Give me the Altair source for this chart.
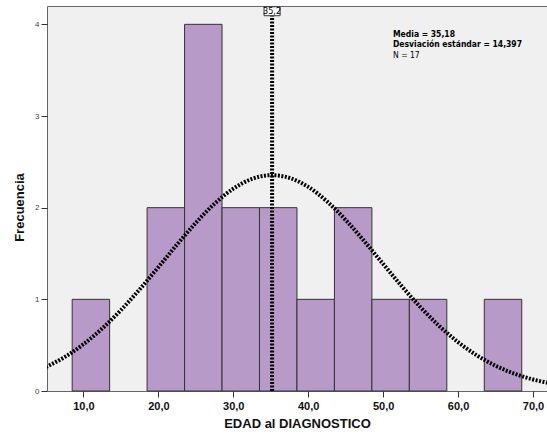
import altair as alt
import pandas as pd

# Histogram bins (age at diagnosis) and frequencies
bin_start = [8.5, 18.5, 23.5, 28.5, 33.5, 38.5, 43.5, 48.5, 53.5, 63.5]
bin_end = [13.5, 23.5, 28.5, 33.5, 38.5, 43.5, 48.5, 53.5, 58.5, 68.5]
freq = [1, 2, 4, 2, 2, 1, 2, 1, 1, 1]

# Fitted normal curve
curve_x = [5, 7.5, 10, 12.5, 15, 17.5, 20, 22.5, 25, 27.5, 30, 32.5, 35, 37.5,
           40, 42.5, 45, 47.5, 50, 52.5, 55, 57.5, 60, 62.5, 65, 67.5, 70, 72.5, 75]
curve_y = [0.262, 0.371, 0.510, 0.681, 0.882, 1.108, 1.351, 1.598, 1.834, 2.043,
           2.207, 2.314, 2.355, 2.325, 2.227, 2.069, 1.866, 1.633, 1.386, 1.142,
           0.913, 0.708, 0.533, 0.389, 0.276, 0.190, 0.126, 0.082, 0.051]

mean_value = [35.18]
mean_label = ["35,2"]
stats_bold = ["Media = 35,18", "Desviación estándar = 14,397"]
stats_n = ["N = 17"]

x_ticks = [10, 20, 30, 40, 50, 60, 70]
y_ticks = [0, 1, 2, 3, 4]
x_domain = [5.14, 71.87]
y_domain = [0, 4.2]

NARROW = "'Liberation Sans Narrow', 'DejaVu Sans Condensed', 'Roboto Condensed', 'Liberation Sans'"

bars_df = pd.DataFrame({"start": bin_start, "end": bin_end, "freq": freq, "zero": [0] * len(freq)})
curve_df = pd.DataFrame({"x": curve_x, "y": curve_y})
mean_df = pd.DataFrame({"m": mean_value, "lab": mean_label, "top": [y_domain[1]], "zero": [0], "boxy": [4.143]})

xscale = alt.Scale(domain=x_domain, nice=False, zero=False)
yscale = alt.Scale(domain=y_domain, nice=False)

xaxis = alt.Axis(values=x_ticks, labelExpr="replace(format(datum.value, '.1f'), '.', ',')",
                 labelFont="Liberation Sans", labelFontSize=11, labelFontWeight="bold",
                 labelColor="#111", tickSize=6, tickColor="#333", labelPadding=3,
                 domain=False, grid=False, title="EDAD al DIAGNOSTICO",
                 titleFont="Liberation Sans", titleFontSize=13, titleFontWeight="bold",
                 titleColor="#111", titlePadding=6)
yaxis = alt.Axis(values=y_ticks, format="d", labelFont="Liberation Sans", labelFontSize=8,
                 labelColor="#444", tickSize=6, tickColor="#333", labelPadding=2,
                 domain=False, grid=False, title="Frecuencia", titleY=201,
                 titleFont="Liberation Sans", titleFontSize=13, titleFontWeight="bold",
                 titleColor="#111", titlePadding=8)

bars = alt.Chart(bars_df).mark_rect(fill="#b89ac8", stroke="#333333", strokeWidth=1).encode(
    x=alt.X("start:Q", scale=xscale, axis=xaxis),
    x2="end:Q",
    y=alt.Y("freq:Q", scale=yscale, axis=yaxis),
    y2="zero:Q",
)

curve = alt.Chart(curve_df).mark_line(color="black", strokeWidth=4, strokeDash=[2, 1.5],
                                      strokeCap="butt", clip=True, interpolate="monotone").encode(
    x=alt.X("x:Q", scale=xscale),
    y=alt.Y("y:Q", scale=yscale),
)

mean_rule = alt.Chart(mean_df).mark_rule(color="black", strokeWidth=4, strokeDash=[2, 1.5],
                                         strokeCap="butt").encode(
    x=alt.X("m:Q", scale=xscale),
    y=alt.Y("zero:Q", scale=yscale),
    y2="top:Q",
)

box = alt.Chart(mean_df).mark_point(
    shape="M-1,-0.5625L1,-0.5625L1,0.5625L-1,0.5625Z", size=256, filled=True,
    fill="white", stroke="#333", strokeWidth=1, opacity=1).encode(
    x=alt.X("m:Q", scale=xscale),
    y=alt.Y("boxy:Q", scale=yscale),
)

box_text = alt.Chart(mean_df).mark_text(font=NARROW, fontSize=9,
                                        color="black", baseline="middle", align="center").encode(
    x=alt.X("m:Q", scale=xscale),
    y=alt.Y("boxy:Q", scale=yscale),
    text="lab:N",
)

stats1 = alt.Chart(pd.DataFrame({"t": [stats_bold]})).mark_text(
    font=NARROW, fontSize=8.5, fontWeight="bold", color="black",
    align="left", baseline="middle", lineHeight=10.8).encode(
    x=alt.value(346), y=alt.value(27.5), text="t")

stats2 = alt.Chart(pd.DataFrame({"t": stats_n})).mark_text(
    font=NARROW, fontSize=8.5, color="black",
    align="left", baseline="middle").encode(
    x=alt.value(346), y=alt.value(48.5), text="t:N")

chart = alt.layer(bars, curve, mean_rule, box, box_text, stats1, stats2).properties(
    width=500, height=385,
    autosize=alt.AutoSizeParams(type="none"),
    padding={"left": 47, "top": 6, "right": 0, "bottom": 46},
    background="white",
).configure_view(fill="#f0f0f0", stroke="#666666", strokeWidth=1)

chart.save("out.html", embed_options={"renderer": "svg", "actions": False})
